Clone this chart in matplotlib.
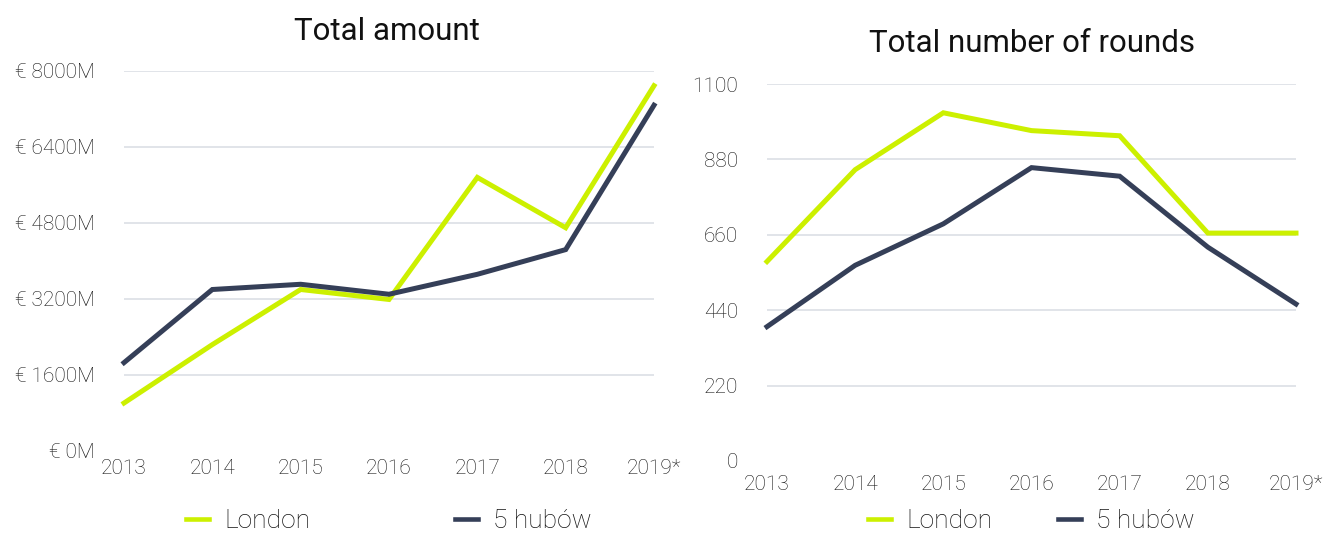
import matplotlib
matplotlib.use("Agg")
import matplotlib.pyplot as plt
from matplotlib import font_manager

plt.rcParams['font.family'] = ['Roboto', 'DejaVu Sans']
light = any('Roboto' in f.name and f.weight in (300, 'light') for f in font_manager.fontManager.ttflist)

years = ["2013", "2014", "2015", "2016", "2017", "2018", "2019*"]

amount_london = [1010, 2240, 3400, 3190, 5760, 4700, 7690]
amount_hubs = [1860, 3400, 3510, 3300, 3720, 4240, 7280]
amount_ticks = [0, 1600, 3200, 4800, 6400, 8000]

rounds_london = [582, 850, 1016, 964, 949, 665, 665]
rounds_hubs = [392, 571, 692, 856, 831, 624, 458]
rounds_ticks = [0, 220, 440, 660, 880, 1100]

series_names = ["London", "5 hubów"]

LIME = "#CCF000"
NAVY = "#353F58"
GRID = "#D9DCE3"
TXT = "#141414"
WEIGHT = 'light' if light else 'normal'

W, H = 1328, 535
fig = plt.figure(figsize=(W / 100, H / 100), dpi=100)

def px_axes(x0, x1, ytop, ybot):
    return fig.add_axes([x0 / W, (H - ybot) / H, (x1 - x0) / W, (ybot - ytop) / H])

ax1 = px_axes(124, 654, 71, 451)
ax2 = px_axes(767, 1296, 84, 461)

def style(ax, vals, ticks, labels, title, title_xy, leg_y, colspacing, xpad):
    x = list(range(len(years)))
    ax.plot(x, vals[0], color=LIME, lw=3.6, label=series_names[0],
            solid_joinstyle='miter', clip_on=False, zorder=3)
    ax.plot(x, vals[1], color=NAVY, lw=3.6, label=series_names[1],
            solid_joinstyle='miter', clip_on=False, zorder=3)
    ax.set_xlim(0, len(years) - 1)
    ax.set_ylim(ticks[0], ticks[-1])
    ax.set_yticks(ticks)
    ax.set_yticklabels(labels)
    ax.set_xticks(x)
    ax.set_xticklabels(years)
    for s in ax.spines.values():
        s.set_visible(False)
    ax.tick_params(axis='both', length=0, labelsize=15, labelcolor=TXT)
    ax.tick_params(axis='y', pad=21)
    ax.tick_params(axis='x', pad=xpad)
    for lab in ax.get_xticklabels() + ax.get_yticklabels():
        lab.set_fontweight(WEIGHT)
    for t in ticks[1:]:
        ax.axhline(t, color=GRID, lw=1.1, zorder=1)
    fig.text(title_xy[0] / W, 1 - title_xy[1] / H, title, fontsize=22.5,
             color="#111111", ha='center', va='center')
    pos = ax.get_position()
    leg = fig.legend(handles=ax.get_lines()[:2], loc='center',
                     bbox_to_anchor=(pos.x0 + pos.width / 2, 1 - leg_y / H), ncol=2,
                     frameon=False, prop={'size': 19, 'weight': WEIGHT},
                     handlelength=0.87, handletextpad=0.6,
                     columnspacing=colspacing, labelcolor=TXT,
                     borderpad=0.1)
    for h in leg.legend_handles:
        h.set_linewidth(3.3)

style(ax1, (amount_london, amount_hubs), amount_ticks,
      [f"€ {t}M" for t in amount_ticks], "Total amount", (387, 31), 521, 5.45, 6)
style(ax2, (rounds_london, rounds_hubs), rounds_ticks,
      [str(t) for t in rounds_ticks], "Total number of rounds", (1032, 44), 521, 2.45, 10)

fig.savefig("out.png", dpi=100, facecolor="white")
